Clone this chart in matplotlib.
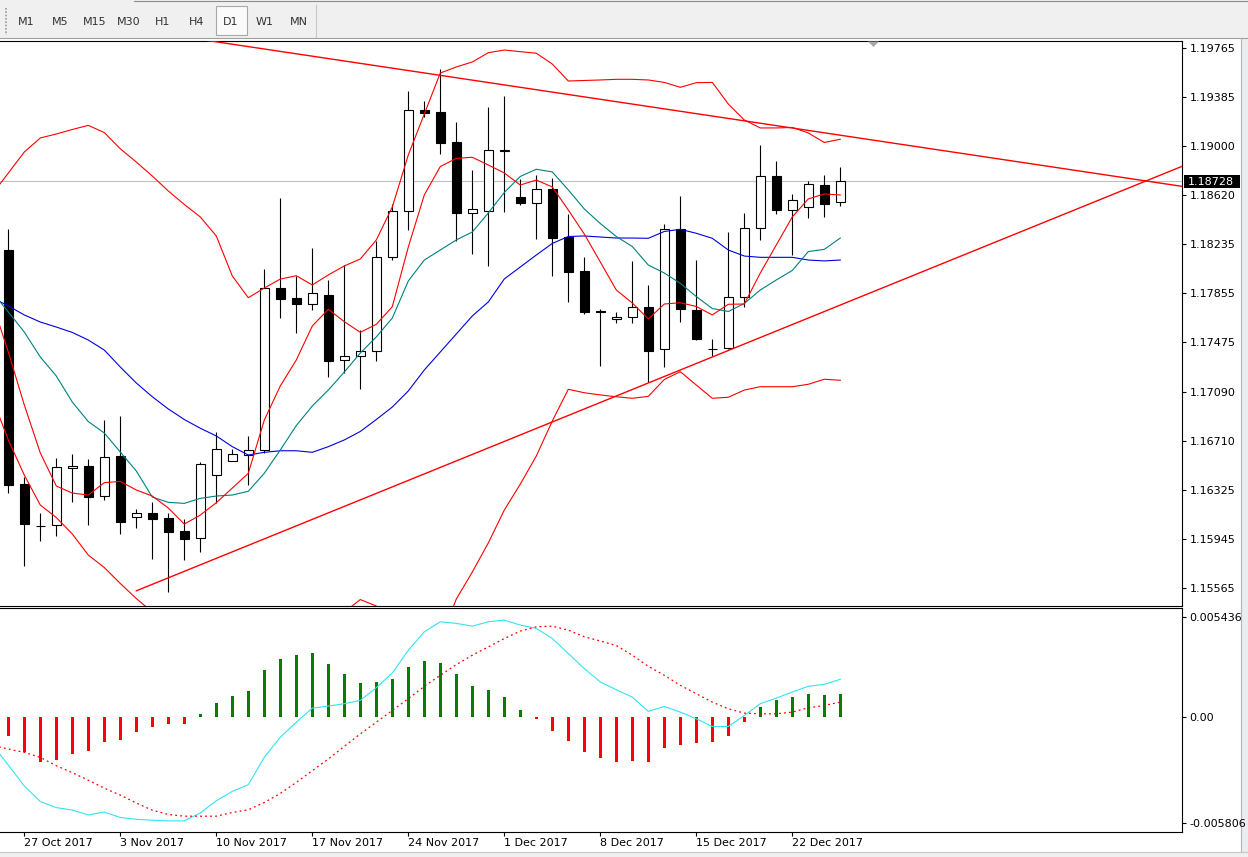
import matplotlib
matplotlib.use("Agg")
import matplotlib.pyplot as plt
import numpy as np
import pandas as pd
from matplotlib.patches import Rectangle, Polygon

W, H = 1248, 857

# daily candles, 26 Oct 2017 .. 26 Dec 2017 (broker with Sunday bars)
opens = [1.18191, 1.16372, 1.16048, 1.16051, 1.16496, 1.16512, 1.16281, 1.16590, 1.16113, 1.16149,
         1.16105, 1.16004, 1.15950, 1.16440, 1.16548, 1.16600, 1.16636, 1.17894, 1.17816, 1.17769,
         1.17842, 1.17334, 1.17365, 1.17404, 1.18135, 1.18492, 1.19280, 1.19265, 1.19031, 1.18477,
         1.18492, 1.18967, 1.18602, 1.18555, 1.18666, 1.18293, 1.18028, 1.17714, 1.17655, 1.17668,
         1.17748, 1.17419, 1.18355, 1.17725, 1.17419, 1.17427, 1.17824, 1.18360, 1.18765, 1.18505,
         1.18523, 1.18697, 1.18562]
highs = [1.18355, 1.16429, 1.16144, 1.16572, 1.16605, 1.16566, 1.16870, 1.16901, 1.16177, 1.16234,
         1.16144, 1.16102, 1.16541, 1.16774, 1.16646, 1.16745, 1.18041, 1.18598, 1.17992, 1.18205,
         1.17958, 1.18075, 1.17569, 1.18261, 1.18549, 1.19428, 1.19352, 1.19599, 1.19184, 1.18814,
         1.19301, 1.19389, 1.18741, 1.18775, 1.18749, 1.18471, 1.18135, 1.17730, 1.17707, 1.18108,
         1.17919, 1.18394, 1.18611, 1.18114, 1.17497, 1.18331, 1.18479, 1.19008, 1.18884, 1.18627,
         1.18728, 1.18775, 1.18837]
lows = [1.16304, 1.15737, 1.15931, 1.15970, 1.16234, 1.16053, 1.16247, 1.15983, 1.16032, 1.15789,
        1.15534, 1.15781, 1.15845, 1.16226, 1.16548, 1.16364, 1.16615, 1.17665, 1.17548, 1.17725,
        1.17206, 1.17233, 1.17113, 1.17331, 1.18114, 1.18347, 1.19223, 1.18942, 1.18261, 1.18158,
        1.18069, 1.18489, 1.18544, 1.18277, 1.17992, 1.17789, 1.17694, 1.17292, 1.17624, 1.17626,
        1.17165, 1.17284, 1.17634, 1.17489, 1.17367, 1.17419, 1.17751, 1.18272, 1.18474, 1.18155,
        1.18443, 1.18450, 1.18536]
closes = [1.16364, 1.16061, 1.16045, 1.16502, 1.16512, 1.16273, 1.16580, 1.16076, 1.16144, 1.16102,
          1.16001, 1.15942, 1.16527, 1.16642, 1.16603, 1.16636, 1.17894, 1.17810, 1.17769, 1.17855,
          1.17331, 1.17365, 1.17404, 1.18135, 1.18492, 1.19278, 1.19254, 1.19027, 1.18477, 1.18508,
          1.18967, 1.18965, 1.18555, 1.18663, 1.18287, 1.18023, 1.17712, 1.17710, 1.17668, 1.17748,
          1.17408, 1.18355, 1.17737, 1.17497, 1.17421, 1.17824, 1.18360, 1.18765, 1.18505, 1.18578,
          1.18702, 1.18551, 1.18728]

# indicator lines, first value is the bar just left of the window
band_upper = [1.18627, 1.18790, 1.18954, 1.19063, 1.19094, 1.19129, 1.19161, 1.19105, 1.18979, 1.18876,
              1.18767, 1.18651, 1.18546, 1.18449, 1.18301, 1.17990, 1.17821, 1.17896, 1.17966, 1.17992,
              1.17920, 1.17998, 1.18068, 1.18122, 1.18270, 1.18526, 1.18931, 1.19249, 1.19568, 1.19615,
              1.19654, 1.19726, 1.19747, 1.19734, 1.19722, 1.19638, 1.19506, 1.19510, 1.19514, 1.19519,
              1.19519, 1.19514, 1.19495, 1.19457, 1.19493, 1.19495, 1.19327, 1.19203, 1.19141, 1.19141,
              1.19145, 1.19102, 1.19028, 1.19053]
band_lower = [1.17041, 1.16715, 1.16442, 1.16209, 1.16112, 1.15984, 1.15820, 1.15723, 1.15599, 1.15482,
              1.15377, 1.15276, 1.15159, 1.15043, 1.14848, 1.14537, 1.14343, 1.14421, 1.14537, 1.14693,
              1.14848, 1.15159, 1.15377, 1.15474, 1.15424, 1.15276, 1.15082, 1.15004, 1.15159, 1.15478,
              1.15688, 1.15914, 1.16170, 1.16372, 1.16590, 1.16862, 1.17109, 1.17082, 1.17065, 1.17051,
              1.17039, 1.17054, 1.17185, 1.17246, 1.17142, 1.17039, 1.17047, 1.17103, 1.17129, 1.17129,
              1.17129, 1.17148, 1.17187, 1.17179]
ma_fast = [1.17780, 1.17399, 1.16987, 1.16614, 1.16357, 1.16302, 1.16287, 1.16383, 1.16393, 1.16326,
           1.16279, 1.16186, 1.16061, 1.16131, 1.16227, 1.16341, 1.16456, 1.16870, 1.17135, 1.17337,
           1.17601, 1.17731, 1.17635, 1.17552, 1.17614, 1.17751, 1.18215, 1.18620, 1.18841, 1.18904,
           1.18913, 1.18853, 1.18791, 1.18697, 1.18736, 1.18682, 1.18503, 1.18316, 1.18099, 1.17881,
           1.17780, 1.17656, 1.17772, 1.17782, 1.17753, 1.17687, 1.17770, 1.17772, 1.18013, 1.18231,
           1.18449, 1.18589, 1.18628, 1.18620]
ma_mid = [1.17865, 1.17710, 1.17554, 1.17360, 1.17212, 1.17010, 1.16858, 1.16769, 1.16621, 1.16474,
          1.16271, 1.16230, 1.16222, 1.16261, 1.16279, 1.16287, 1.16316, 1.16456, 1.16637, 1.16827,
          1.16979, 1.17103, 1.17243, 1.17391, 1.17516, 1.17663, 1.17951, 1.18114, 1.18192, 1.18270,
          1.18332, 1.18480, 1.18639, 1.18764, 1.18820, 1.18799, 1.18659, 1.18511, 1.18398, 1.18297,
          1.18219, 1.18075, 1.18013, 1.17933, 1.17830, 1.17737, 1.17714, 1.17776, 1.17881, 1.17959,
          1.18033, 1.18180, 1.18197, 1.18285]
ma_slow = [1.17821, 1.17757, 1.17687, 1.17632, 1.17593, 1.17551, 1.17492, 1.17414, 1.17282, 1.17158,
           1.17051, 1.16956, 1.16874, 1.16806, 1.16746, 1.16663, 1.16598, 1.16619, 1.16631, 1.16631,
           1.16619, 1.16663, 1.16715, 1.16781, 1.16874, 1.16971, 1.17096, 1.17259, 1.17399, 1.17539,
           1.17679, 1.17788, 1.17967, 1.18060, 1.18153, 1.18243, 1.18297, 1.18301, 1.18293, 1.18285,
           1.18285, 1.18283, 1.18336, 1.18353, 1.18322, 1.18283, 1.18192, 1.18145, 1.18135, 1.18135,
           1.18135, 1.18114, 1.18107, 1.18114]

# trend lines: (bar index, price) anchors
trend_down_bars = [27, 48]
trend_down_prices = [1.19550, 1.19159]
trend_up_bars = [8, 52]
trend_up_prices = [1.15542, 1.17764]
bid = 1.18728

# MACD sub-window
macd_hist = [-0.001021, -0.001938, -0.002484, -0.002337, -0.002009, -0.001845, -0.001354, -0.001245,
             -0.000857, -0.000584, -0.000420, -0.000366, 0.000180, 0.000732, 0.001114, 0.001409,
             0.002539, 0.003145, 0.003363, 0.003473, 0.002866, 0.002320, 0.001829, 0.001900,
             0.002047, 0.002703, 0.003036, 0.002921, 0.002320, 0.001665, 0.001441, 0.001059,
             0.000349, -0.000147, -0.000748, -0.001332, -0.001900, -0.002266, -0.002484, -0.002430,
             -0.002484, -0.001720, -0.001518, -0.001441, -0.001387, -0.001021, -0.000295, 0.000530,
             0.000895, 0.001076, 0.001261, 0.001207, 0.001223]
macd_main = [-0.001518, -0.002632, -0.003778, -0.004625, -0.004958, -0.005089, -0.005362, -0.005198,
             -0.005498, -0.005596, -0.005646, -0.005684, -0.005684, -0.005247, -0.004586, -0.004073,
             -0.003707, -0.002211, -0.001114, -0.000295, 0.000475, 0.000584, 0.000715, 0.000895,
             0.001589, 0.002391, 0.003636, 0.004641, 0.005187, 0.005100, 0.004952, 0.005187,
             0.005280, 0.005007, 0.004827, 0.004275, 0.003456, 0.002632, 0.001900, 0.001480,
             0.001076, 0.000295, 0.000568, 0.000257, -0.000109, -0.000530, -0.000530, 0.000071,
             0.000715, 0.001021, 0.001354, 0.001665, 0.001775, 0.002047]
macd_signal = [-0.001562, -0.001758, -0.001944, -0.002217, -0.002670, -0.003052, -0.003462, -0.003898,
               -0.004275, -0.004707, -0.005100, -0.005334, -0.005427, -0.005427, -0.005427, -0.005225,
               -0.005078, -0.004679, -0.004182, -0.003582, -0.002943, -0.002304, -0.001611, -0.000934,
               -0.000295, 0.000349, 0.000988, 0.001665, 0.002266, 0.002850, 0.003363, 0.003817,
               0.004275, 0.004679, 0.004914, 0.004952, 0.004734, 0.004368, 0.004139, 0.003893,
               0.003363, 0.002757, 0.002266, 0.001720, 0.001261, 0.000803, 0.000437, 0.000202,
               0.000164, 0.000164, 0.000257, 0.000491, 0.000622, 0.000803]

price_ticks = [1.19765, 1.19385, 1.19000, 1.18620, 1.18235, 1.17855, 1.17475,
               1.17090, 1.16710, 1.16325, 1.15945, 1.15565]
macd_ticks = [0.005436, 0.0, -0.005806]
macd_tick_labels = ["0.005436", "0.00", "-0.005806"]
timeframes = ["M1", "M5", "M15", "M30", "H1", "H4", "D1", "W1", "MN"]

dates = pd.bdate_range("2017-10-26", periods=len(opens), freq="C",
                       weekmask="Sun Mon Tue Wed Thu Fri")


def fx(px):
    return px / W


def fy(py):
    return 1 - py / H


fig = plt.figure(figsize=(W / 100, H / 100), dpi=100, facecolor="white")

# decoration layer in pixel coordinates (toolbar, borders, price tag)
deco = fig.add_axes([0, 0, 1, 1])
deco.set_xlim(0, W)
deco.set_ylim(H, 0)
deco.axis("off")
deco.patch.set_visible(False)

deco.add_patch(Rectangle((0, 0), W, 37.5, facecolor="#F0F0F0", edgecolor="none"))
deco.plot([134, W], [1, 1], color="#8C8C8C", lw=0.8)
deco.plot([0, W], [37.5, 37.5], color="#A0A0A0", lw=0.8)
deco.plot([6, 6], [8, 35], color="#9A9A9A", lw=1.2, ls=(0, (1, 1)))
deco.plot([316, 316], [5, 37], color="#C8C8C8", lw=0.8)
deco.add_patch(Rectangle((215.7, 6), 31, 29, facecolor="#FAFAFA", edgecolor="#A8A8A8", lw=0.8))
for i, tf in enumerate(timeframes):
    deco.text(26 + 34.1 * i, 22, tf, ha="center", va="center", fontsize=8, color="#333333")

deco.add_patch(Rectangle((1241, 38), 7, 815, facecolor="#E9ECF0", edgecolor="none"))
deco.plot([1241, 1241], [38, 852], color="#B4B4B4", lw=0.8)
deco.add_patch(Rectangle((0, 852), W, 5, facecolor="#F0F0F0", edgecolor="none"))
deco.plot([0, W], [852, 852], color="#C8C8C8", lw=0.8)

deco.add_patch(Rectangle((1183.5, 174.5), 56.5, 13.5, facecolor="black", edgecolor="none"))
deco.text(1188, 181.5, f"{bid:.5f}", ha="left", va="center", fontsize=8, color="white")

x_min, x_max = -8.3 / 16, (1182 - 8.3) / 16
x = np.arange(len(opens))
xl = np.arange(-1, len(opens))

# ---- main price window ----
ax = fig.add_axes([0, fy(606), fx(1182), fy(41) - fy(606)])
ax.set_xlim(x_min, x_max)
ax.set_ylim(1.15424, 1.19817)

ax.axhline(bid, color="#C0C0C0", lw=0.8, zorder=1)

o = np.array(opens)
c = np.array(closes)
up = c >= o
body_lo = np.minimum(o, c)
body_h = np.maximum(np.abs(c - o), 0.00002)
ax.vlines(x, lows, highs, color="black", lw=0.8, zorder=2)
ax.bar(x, body_h, bottom=body_lo, width=0.6, color=np.where(up, "white", "black"),
       edgecolor="black", linewidth=0.8, zorder=3)

ax.plot(xl, band_upper, color="#FF0000", lw=0.8, zorder=4)
ax.plot(xl, band_lower, color="#FF0000", lw=0.8, zorder=4)
ax.plot(xl, ma_slow, color="#0000E0", lw=0.8, zorder=4)
ax.plot(xl, ma_mid, color="#008080", lw=0.8, zorder=4)
ax.plot(xl, ma_fast, color="#FF0000", lw=0.8, zorder=4)

# trend lines
xs = np.array([x_min, x_max])
ys = trend_down_prices[0] + (trend_down_prices[1] - trend_down_prices[0]) * \
    (xs - trend_down_bars[0]) / (trend_down_bars[1] - trend_down_bars[0])
ax.plot(xs, ys, color="#FF0000", lw=1.0, zorder=5)
xs = np.array([trend_up_bars[0], x_max])
ys = trend_up_prices[0] + (trend_up_prices[1] - trend_up_prices[0]) * \
    (xs - trend_up_bars[0]) / (trend_up_bars[1] - trend_up_bars[0])
ax.plot(xs, ys, color="#FF0000", lw=1.0, zorder=5)

# chart shift marker
ax.add_patch(Polygon([(868, 41.5), (879, 41.5), (873.5, 47)], closed=True, facecolor="#A8A8A8",
                     edgecolor="none", transform=deco.transData, clip_on=False, zorder=10))

for s in ["top", "right", "bottom"]:
    ax.spines[s].set_color("black")
    ax.spines[s].set_linewidth(0.8)
ax.spines["left"].set_visible(False)
ax.yaxis.tick_right()
ax.set_yticks(price_ticks)
ax.set_yticklabels([f"{p:.5f}" for p in price_ticks])
ax.tick_params(axis="y", direction="out", length=3, width=0.8, pad=2.5, labelsize=8, colors="black")
ax.tick_params(axis="x", bottom=False, labelbottom=False)

# ---- MACD window ----
ax2 = fig.add_axes([0, fy(832), fx(1182), fy(608.4) - fy(832)])
ax2.set_xlim(x_min, x_max)
ax2.set_ylim(-0.006290, 0.005919)

hist = np.array(macd_hist)
ax2.bar(x, hist, width=0.17, color=np.where(hist >= 0, "#008000", "#FF0000"), linewidth=0, zorder=2)
ax2.plot(xl, macd_main, color="#33E3F2", lw=0.8, zorder=3)
ax2.plot(xl, macd_signal, color="#FF0000", lw=0.9, ls=(0, (1.5, 2.5)), zorder=3)

for s in ["top", "right", "bottom"]:
    ax2.spines[s].set_color("black")
    ax2.spines[s].set_linewidth(0.8)
ax2.spines["left"].set_visible(False)
ax2.yaxis.tick_right()
ax2.set_yticks(macd_ticks)
ax2.set_yticklabels(macd_tick_labels)
ax2.tick_params(axis="y", direction="out", length=3, width=0.8, pad=2.5, labelsize=8, colors="black")

date_idx = list(range(1, len(opens), 6))
ax2.set_xticks(date_idx)
ax2.set_xticklabels([f"{dates[i].day} {dates[i].strftime('%b %Y')}" for i in date_idx])
ax2.tick_params(axis="x", direction="out", length=3, width=0.8, pad=1.5, labelsize=8, colors="black")
for lab in ax2.get_xticklabels():
    lab.set_ha("left")

fig.savefig("out.png", dpi=100, facecolor="white")
